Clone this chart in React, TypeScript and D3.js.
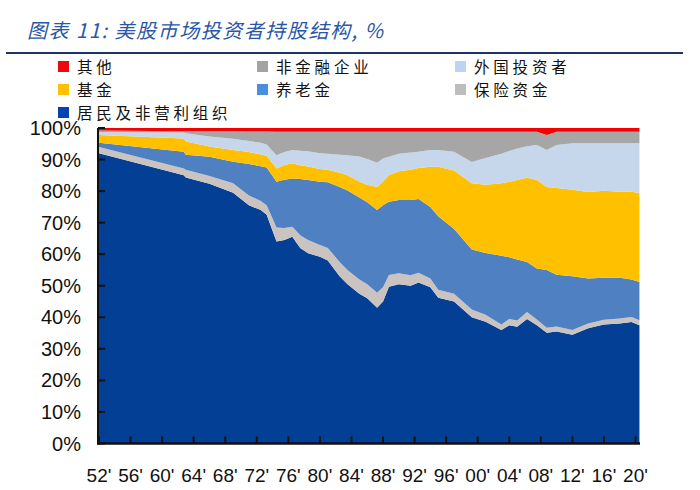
import React, { useEffect, useRef } from 'react';
import * as d3 from 'd3';

// sampled dates (fractional years)
const years = [
  1952, 1962.75, 1963, 1966, 1969, 1971, 1972.5, 1973.25, 1974.5, 1975.5,
  1976.5, 1977.5, 1978.5, 1980, 1981, 1982.5, 1983.5, 1985, 1986, 1987.25,
  1988, 1988.75, 1990, 1991.5, 1992.5, 1994, 1995, 1997, 1999.25, 2001,
  2003, 2004, 2005, 2006.25, 2007.5, 2008.75, 2010, 2012, 2014, 2016,
  2018, 2019.5, 2020.5,
];

// shares, % (bottom to top of the stack)
const households = [
  92, 85, 84.3, 82.3, 79.5, 75.5, 74, 72.5, 64, 64.5,
  65.5, 62, 60.3, 59.2, 58, 53, 50.5, 47.5, 46, 43,
  45, 49.7, 50.5, 50, 51, 49.5, 46.2, 45, 40, 38.6,
  36, 37.5, 37, 39.5, 37.5, 35.1, 35.5, 34.5, 36.5, 37.7,
  38, 38.5, 37.5,
];
const insurance = [
  2.0, 2.2, 2.5, 2.5, 3.0, 3.1, 2.9, 3.0, 4.5, 3.8,
  3.2, 4.0, 4.2, 3.7, 4.0, 4.5, 4.5, 4.5, 4.5, 4.8,
  4.5, 3.7, 3.5, 3.3, 3.1, 2.8, 2.5, 2.5, 2.5, 2.2,
  1.7, 2.0, 2.0, 2.2, 1.8, 1.6, 1.6, 1.5, 1.5, 1.5,
  1.6, 1.6, 1.6,
];
const pension = [
  1.3, 5.3, 4.7, 6.1, 6.8, 10.0, 11.0, 12.0, 14.5, 15.3,
  15.3, 17.8, 19.0, 20.1, 20.8, 23.8, 25.2, 26.0, 26.0, 26.2,
  26.0, 23.2, 23.2, 23.9, 23.4, 22.7, 23.3, 20.5, 19.0, 19.6,
  21.8, 19.5, 19.3, 15.8, 16.2, 18.3, 16.4, 17.0, 14.3, 13.3,
  12.9, 11.9, 12.1,
];
const funds = [
  2.5, 4.2, 4.2, 3.2, 3.7, 3.8, 3.7, 3.7, 4.2, 4.7,
  4.8, 4.4, 4.3, 4.0, 4.0, 4.5, 4.8, 5.0, 5.5, 7.3,
  7.5, 8.4, 9.1, 9.6, 9.8, 12.7, 15.7, 18.5, 21.0, 21.6,
  23.0, 24.0, 25.2, 26.7, 28.0, 26.3, 27.5, 27.4, 27.4, 27.6,
  27.3, 27.8, 28.2,
];
const foreign = [
  0.9, 1.9, 2.6, 3.2, 3.6, 3.5, 3.7, 3.6, 4.2, 4.1,
  4.2, 4.6, 4.8, 5.0, 5.0, 5.7, 6.4, 8.0, 8.2, 7.7,
  7.3, 5.9, 5.5, 5.4, 5.2, 5.3, 5.3, 6.0, 6.7, 8.5,
  9.3, 9.7, 10.0, 10.0, 11.1, 11.7, 13.6, 14.8, 15.5, 15.1,
  15.4, 15.4, 15.8,
];
const corporates = [
  0.5, 0.4, 0.7, 1.7, 2.4, 3.0, 3.6, 4.1, 7.4, 6.4,
  5.8, 6.0, 6.2, 6.8, 7.0, 7.3, 7.4, 7.8, 8.6, 9.8,
  8.5, 7.9, 7.0, 6.6, 6.3, 5.8, 5.8, 6.3, 9.6, 8.3,
  7.0, 6.1, 5.3, 4.6, 4.2, 4.8, 4.2, 3.6, 3.6, 3.6,
  3.6, 3.6, 3.6,
];
const others = [
  0.8, 1.0, 1.0, 1.0, 1.0, 1.1, 1.1, 1.1, 1.2, 1.2,
  1.2, 1.2, 1.2, 1.2, 1.2, 1.2, 1.2, 1.2, 1.2, 1.2,
  1.2, 1.2, 1.2, 1.2, 1.2, 1.2, 1.2, 1.2, 1.2, 1.2,
  1.2, 1.2, 1.2, 1.2, 1.2, 2.2, 1.2, 1.2, 1.2, 1.2,
  1.2, 1.2, 1.2,
];

const seriesKeys = ['居民及非营利组织', '保险资金', '养老金', '基金', '外国投资者', '非金融企业', '其他'];
const seriesValues = [households, insurance, pension, funds, foreign, corporates, others];
const areaColors = ['#033f95', '#cbc3bf', '#4f81c2', '#ffc000', '#c6d7ec', '#a6a6a6', '#f40000'];
const legendColors = ['#0344b0', '#bdbdbd', '#4a8ee0', '#ffc000', '#bcd3f2', '#a3a3a3', '#ea0a10'];

// legend layout rows, by series index
const legendRows = [[6, 5, 4], [3, 2, 1], [0]];

const xTickYears = d3.range(1952, 2021, 4);
const xTickLabels = ["52'", "56'", "60'", "64'", "68'", "72'", "76'", "80'", "84'", "88'", "92'", "96'", "00'", "04'", "08'", "12'", "16'", "20'"];
const yTicks = d3.range(0, 1.01, 0.1);

const title = '图表 11: 美股市场投资者持股结构, %';

export default function App() {
  const svgRef = useRef<SVGSVGElement>(null);

  useEffect(() => {
    if (!svgRef.current) return;
    const svg = d3.select(svgRef.current);
    svg.selectAll('*').remove();

    const left = 98, right = 640, top = 128, bottom = 443.5;

    const x = d3.scaleLinear().domain([1952, 2020]).range([99, 635.5]);
    const y = d3.scaleLinear().domain([0, 1]).range([bottom, top]);

    const rows = years.map((yr, i) => {
      const r: any = { year: yr };
      seriesKeys.forEach((k, j) => { r[k] = seriesValues[j][i]; });
      return r;
    });

    const stack = d3.stack<any>().keys(seriesKeys).offset(d3.stackOffsetExpand);
    const layers = stack(rows);

    const area = d3.area<any>()
      .x(d => x(d.data.year))
      .y0(d => y(d[0]))
      .y1(d => y(d[1]));

    svg.append('g')
      .selectAll('path')
      .data(layers)
      .join('path')
      .attr('fill', (_, i) => areaColors[i])
      .attr('d', area as any);

    // title
    svg.append('text')
      .attr('x', 27)
      .attr('y', 38)
      .attr('font-family', '"Noto Sans CJK SC", sans-serif')
      .attr('font-style', 'italic')
      .attr('font-size', 20)
      .attr('fill', '#2a56a8')
      .attr('textLength', 356)
      .text(title);

    svg.append('line')
      .attr('x1', 6).attr('x2', 683)
      .attr('y1', 53).attr('y2', 53)
      .attr('stroke', '#1d3563')
      .attr('stroke-width', 2);

    // legend
    const colX = [58, 257, 455];
    const rowY = [67, 90, 113];
    legendRows.forEach((row, ri) => {
      row.forEach((si, ci) => {
        const g = svg.append('g').attr('transform', `translate(${colX[ci]},${rowY[ri]})`);
        g.append('rect')
          .attr('x', 0).attr('y', -6)
          .attr('width', 11).attr('height', 11)
          .attr('fill', legendColors[si]);
        g.append('text')
          .attr('x', 19).attr('y', 6)
          .attr('font-family', '"Noto Sans CJK SC", sans-serif')
          .attr('font-size', 15.5)
          .attr('letter-spacing', 3.8)
          .attr('fill', '#111')
          .text(seriesKeys[si]);
      });
    });

    // axes
    svg.append('line')
      .attr('x1', left).attr('x2', left)
      .attr('y1', top).attr('y2', bottom + 1)
      .attr('stroke', '#111').attr('stroke-width', 2);
    svg.append('line')
      .attr('x1', left - 1).attr('x2', right)
      .attr('y1', bottom).attr('y2', bottom)
      .attr('stroke', '#111').attr('stroke-width', 2.5);

    svg.append('g')
      .selectAll('line')
      .data(yTicks)
      .join('line')
      .attr('x1', left).attr('x2', left + 7)
      .attr('y1', d => y(d)).attr('y2', d => y(d))
      .attr('stroke', '#111').attr('stroke-width', 2);

    svg.append('g')
      .selectAll('text')
      .data(yTicks)
      .join('text')
      .attr('x', 81)
      .attr('y', d => y(d) + 7)
      .attr('text-anchor', 'end')
      .attr('font-family', '"Liberation Sans", Arial, sans-serif')
      .attr('font-size', 20)
      .attr('fill', '#111')
      .text(d => d3.format('.0%')(d));

    svg.append('g')
      .selectAll('line')
      .data(xTickYears)
      .join('line')
      .attr('x1', d => x(d)).attr('x2', d => x(d))
      .attr('y1', bottom).attr('y2', bottom - 7)
      .attr('stroke', '#111').attr('stroke-width', 2);

    svg.append('g')
      .selectAll('text')
      .data(xTickYears)
      .join('text')
      .attr('x', d => x(d))
      .attr('y', 482)
      .attr('text-anchor', 'middle')
      .attr('font-family', '"Liberation Sans", Arial, sans-serif')
      .attr('font-size', 19)
      .attr('fill', '#111')
      .text((_, i) => xTickLabels[i]);
  }, []);

  return (
    <div style={{ position: 'absolute', left: 0, top: 0, background: '#fff' }}>
      <svg ref={svgRef} width={700} height={490} />
    </div>
  );
}
